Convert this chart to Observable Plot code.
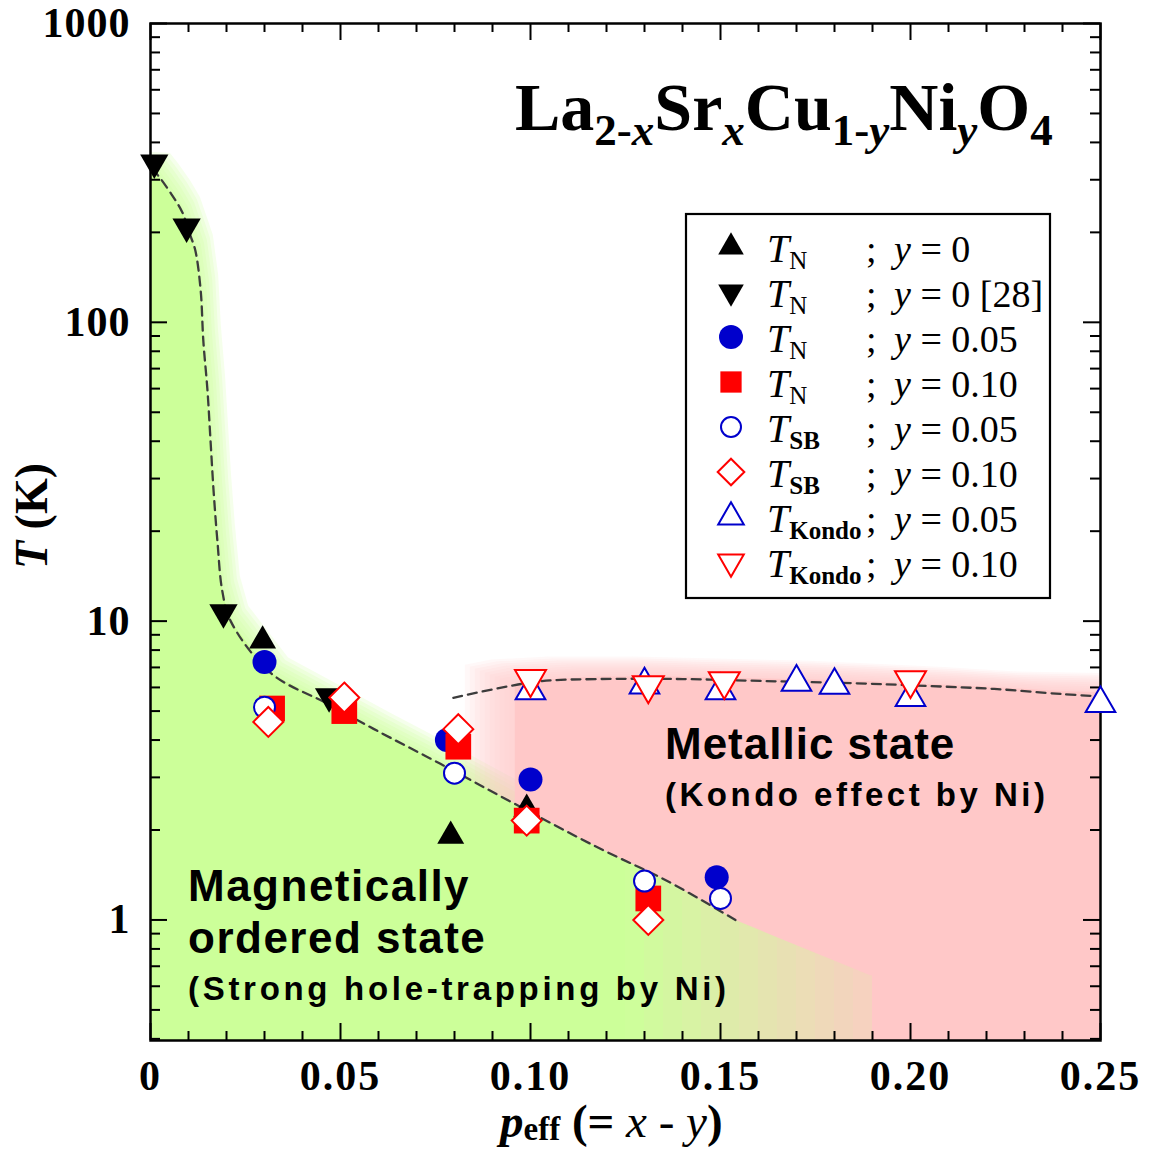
<!DOCTYPE html>
<html>
<head>
<meta charset="utf-8">
<script src="https://cdn.jsdelivr.net/npm/d3@7"></script>
<script src="https://cdn.jsdelivr.net/npm/@observablehq/plot@0.6"></script>
<style>
  html, body { margin: 0; padding: 0; background: #fff; }
  #chart svg { display: block; }
  g[aria-label="x-axis tick label"] text { letter-spacing: 2px; }
  g[aria-label="y-axis tick label"] text { letter-spacing: 1px; }
</style>
</head>
<body>
<div id="chart"></div>
<script>
// ---------------- data (p_eff, T in K) ----------------
const tnY0      = [{p:0.0295,T:8.6},{p:0.079,T:1.91},{p:0.099,T:2.35}];
const tnY0ref28 = [{p:0.001,T:342},{p:0.0095,T:209},{p:0.0192,T:10.7},{p:0.047,T:5.6}];
const tnY005    = [{p:0.030,T:7.3},{p:0.078,T:4.0},{p:0.100,T:2.95},{p:0.149,T:1.39}];
const tnY010    = [{p:0.032,T:5.1},{p:0.051,T:5.0},{p:0.081,T:3.8},{p:0.099,T:2.15},{p:0.131,T:1.18}];
const tsbY005   = [{p:0.030,T:5.15},{p:0.080,T:3.1},{p:0.130,T:1.35},{p:0.150,T:1.18}];
const tsbY010   = [{p:0.031,T:4.6},{p:0.051,T:5.55},{p:0.081,T:4.35},{p:0.099,T:2.15},{p:0.131,T:1.0}];
const tkY005    = [{p:0.100,T:5.85},{p:0.130,T:6.12},{p:0.150,T:5.85},{p:0.170,T:6.25},{p:0.180,T:6.1},{p:0.200,T:5.55},{p:0.250,T:5.3}];
const tkY010    = [{p:0.100,T:6.4},{p:0.131,T:6.1},{p:0.151,T:6.3},{p:0.200,T:6.35}];

// dashed guide lines
const tnLineP = [0.0005,0.0026,0.0058,0.0084,0.0105,0.0118,0.0132,0.0139,0.015,0.0158,0.0166,0.0176,0.0189,0.0211,0.0316,0.0466,0.0587,0.0763,0.0955,0.118,0.136,0.1545];
const tnLineT = [327,303,265,233,195,174,128,86.8,59,40.1,27.3,18.6,12.6,10.0,6.71,5.29,4.36,3.33,2.46,1.74,1.35,0.99];
const kondoLineP = [0.0797,0.092,0.103,0.118,0.140,0.162,0.185,0.204,0.222,0.240,0.250];
const kondoLineT = [5.54,5.98,6.3,6.4,6.4,6.3,6.2,6.07,5.93,5.7,5.6];

// shaded regions (upper boundary of each region)
const greenEdgeP = [-0.02,0.0005,0.0026,0.0058,0.0084,0.0105,0.0118,0.0132,0.0139,0.015,0.0158,0.0166,0.0176,0.0189,0.0211,0.0316,0.0466,0.0587,0.0763,0.0955,0.118,0.136,0.1545,0.1895];
const greenEdgeT = [340,327,303,265,233,195,174,128,86.8,59,40.1,27.3,18.6,12.6,10.0,6.71,5.29,4.36,3.33,2.46,1.74,1.35,0.99,0.65];
const pinkEdgeP = [0.096,0.103,0.118,0.140,0.162,0.185,0.204,0.222,0.240,0.270];
const pinkEdgeT = [6.1,6.35,6.5,6.5,6.4,6.3,6.15,6.0,5.8,5.7];

// ticks
const xMajor = [0, 0.05, 0.10, 0.15, 0.20, 0.25];
const xTickLabels = ["0", "0.05", "0.10", "0.15", "0.20", "0.25"];
const xMinor = [0.01,0.02,0.03,0.04,0.06,0.07,0.08,0.09,0.11,0.12,0.13,0.14,0.16,0.17,0.18,0.19,0.21,0.22,0.23,0.24];
const yMajor = [1, 10, 100, 1000];
const yTickLabels = ["1", "10", "100", "1000"];
const yMinor = [0.4,0.5,0.6,0.7,0.8,0.9,2,3,4,5,6,7,8,9,20,30,40,50,60,70,80,90,200,300,400,500,600,700,800,900];

// legend
const legendSub  = ["N", "N", "N", "N", "SB", "SB", "Kondo", "Kondo"];
const legendCond = ["0", "0 [28]", "0.05", "0.10", "0.05", "0.10", "0.05", "0.10"];

const pt = (P, T) => P.map((p, i) => ({p, T: T[i]}));
const tnLine = pt(tnLineP, tnLineT);
const kondoLine = pt(kondoLineP, kondoLineT);
const greenEdge = pt(greenEdgeP, greenEdgeT);
const pinkEdge = pt(pinkEdgeP, pinkEdgeT);

// ---------------- layout / style ----------------
const W = 1149, H = 1153;
const mL = 150, mR = 49, mT = 23, mB = 113;
const plotW = W - mL - mR, plotH = H - mT - mB;
const BLUE = "#0000cc", RED = "#ff0000", GREEN = "#ccff99", PINK = "#ffc8c8";
const SERIF = "Liberation Serif, Times New Roman, serif";
const SANS = "Liberation Sans, Arial, sans-serif";

// green region split for the horizontal green -> pink fade
function edgeAt(edge, p) {
  for (let i = 0; i < edge.length - 1; i++) {
    const a = edge[i], b = edge[i + 1];
    if (p >= a.p && p <= b.p) {
      const t = (p - a.p) / (b.p - a.p);
      return Math.exp(Math.log(a.T) + t * (Math.log(b.T) - Math.log(a.T)));
    }
  }
  return edge[edge.length - 1].T;
}
function sliceEdge(edge, a, b) {
  return [{p: a, T: edgeAt(edge, a)}, ...edge.filter(d => d.p > a && d.p < b), {p: b, T: edgeAt(edge, b)}];
}
const fadeStart = 0.125, fadeEnd = 0.19, fadeStep = 0.005;
const nStrips = Math.round((fadeEnd - fadeStart) / fadeStep);
const greenSolid = sliceEdge(greenEdge, greenEdge[0].p, fadeStart);
const stripMarks = d3.range(nStrips).map(i => {
  const a = fadeStart + i * fadeStep, b = a + fadeStep;
  const op = 1 - ((i + 0.5) / nStrips) * 0.85;
  return Plot.areaY(sliceEdge(greenEdge, a, Math.min(b, fadeEnd)), {x: "p", y1: 0.3, y2: "T", fill: GREEN, fillOpacity: op, clip: true});
});
// soft halos (layered translucent copies, offset outward)
const greenHalo = [1, 2, 3, 4, 5, 6].map(k => Plot.areaY(greenEdge, {x: "p", y1: 0.3, y2: "T", fill: GREEN, fillOpacity: 0.2, dx: 3 * k, dy: -2.5 * k, clip: true}));
const pinkHalo = [1, 2, 3, 4, 5, 6, 7, 8, 9, 10].map(k => Plot.areaY(pinkEdge, {x: "p", y1: 0.3, y2: "T", fill: PINK, fillOpacity: 0.13, dx: -5 * k, dy: -2 * k, clip: true}));

const sym = {
  tnY0:      {symbol: "triangle", r: 10,   fill: "black", stroke: "none", rotate: 0},
  tnY0ref28: {symbol: "triangle", r: 10.5, fill: "black", stroke: "none", rotate: 180},
  tnY005:    {symbol: "circle",   r: 12,   fill: BLUE,    stroke: "none", rotate: 0},
  tnY010:    {symbol: "square",   r: 14.5, fill: RED,     stroke: "none", rotate: 0},
  tsbY005:   {symbol: "circle",   r: 10.5, fill: "white", stroke: BLUE,   rotate: 0},
  tsbY010:   {symbol: "diamond2", r: 13.5, fill: "white", stroke: RED,    rotate: 0},
  tkY005:    {symbol: "triangle", r: 11,   fill: "white", stroke: BLUE,   rotate: 0},
  tkY010:    {symbol: "triangle", r: 11.5, fill: "white", stroke: RED,    rotate: 180}
};
const series = [["tnY0", tnY0], ["tnY0ref28", tnY0ref28], ["tnY005", tnY005], ["tnY010", tnY010],
                ["tsbY005", tsbY005], ["tsbY010", tsbY010], ["tkY005", tkY005], ["tkY010", tkY010]];

const dotMarks = series.map(([k, data]) => Plot.dot(data, {
  x: "p", y: "T", symbol: sym[k].symbol, r: sym[k].r, fill: sym[k].fill,
  stroke: sym[k].stroke, strokeWidth: 2, rotate: sym[k].rotate
}));

const chart = Plot.plot({
  width: W, height: H,
  marginLeft: mL, marginRight: mR, marginTop: mT, marginBottom: mB,
  x: {domain: [0, 0.25]},
  y: {type: "log", domain: [0.395, 1000]},
  style: {background: "white"},
  marks: [
    ...greenHalo,
    ...pinkHalo,
    Plot.areaY(pinkEdge, {x: "p", y1: 0.3, y2: "T", fill: PINK, clip: true}),
    Plot.areaY(greenSolid, {x: "p", y1: 0.3, y2: "T", fill: GREEN, clip: true}),
    ...stripMarks,
    Plot.line(tnLine, {x: "p", y: "T", stroke: "#3c3c3c", strokeWidth: 2.3, strokeDasharray: "9,6", curve: "catmull-rom"}),
    Plot.line(kondoLine, {x: "p", y: "T", stroke: "#3c3c3c", strokeWidth: 2.3, strokeDasharray: "9,6", curve: "catmull-rom"}),
    // inward ticks: bottom / top
    Plot.ruleX(xMajor, {x: d => d, insetTop: plotH - 17, stroke: "black", strokeWidth: 2}),
    Plot.ruleX(xMajor, {x: d => d, insetBottom: plotH - 17, stroke: "black", strokeWidth: 2}),
    Plot.ruleX(xMinor, {x: d => d, insetTop: plotH - 9, stroke: "black", strokeWidth: 2}),
    Plot.ruleX(xMinor, {x: d => d, insetBottom: plotH - 9, stroke: "black", strokeWidth: 2}),
    // inward ticks: left / right
    Plot.ruleY(yMajor, {y: d => d, insetRight: plotW - 17, stroke: "black", strokeWidth: 2}),
    Plot.ruleY(yMajor, {y: d => d, insetLeft: plotW - 17, stroke: "black", strokeWidth: 2}),
    Plot.ruleY(yMinor, {y: d => d, insetRight: plotW - 10, stroke: "black", strokeWidth: 2}),
    Plot.ruleY(yMinor, {y: d => d, insetLeft: plotW - 10, stroke: "black", strokeWidth: 2}),
    Plot.frame({stroke: "black", strokeWidth: 2.5}),
    Plot.axisX(xMajor, {tickSize: 0, tickPadding: 20, label: null,
      tickFormat: d => xTickLabels[xMajor.indexOf(d)],
      fontSize: 42, fontWeight: "bold", fontFamily: SERIF, fill: "black"}),
    Plot.axisY(yMajor, {tickSize: 0, tickPadding: 20, label: null,
      tickFormat: d => yTickLabels[yMajor.indexOf(d)],
      fontSize: 42, fontWeight: "bold", fontFamily: SERIF, fill: "black"}),
    ...dotMarks
  ]
});
document.getElementById("chart").appendChild(chart);

// ---------------- annotations ----------------
const svg = d3.select(chart);

function richText(parent, x, y, parts, base) {
  const t = parent.append("text").attr("x", x).attr("y", y).attr("text-anchor", "start")
    .attr("font-family", base.family).attr("font-weight", base.weight).attr("font-size", base.size).attr("fill", "black");
  let shift = 0;
  parts.forEach(pp => {
    const target = pp.shift || 0;
    const s = t.append("tspan").text(pp.t).attr("dy", target - shift);
    shift = target;
    if (pp.size) s.attr("font-size", pp.size);
    if (pp.italic) s.attr("font-style", "italic");
    if (pp.weight) s.attr("font-weight", pp.weight);
  });
  return t;
}
const SUB = 45, SH = 15;
richText(svg, 515, 130, [
  {t: "La"}, {t: "2-", size: SUB, shift: SH}, {t: "x", size: SUB, shift: SH, italic: true},
  {t: "Sr"}, {t: "x", size: SUB, shift: SH, italic: true},
  {t: "Cu"}, {t: "1-", size: SUB, shift: SH}, {t: "y", size: SUB, shift: SH, italic: true},
  {t: "Ni"}, {t: "y", size: SUB, shift: SH, italic: true},
  {t: "O"}, {t: "4", size: SUB, shift: SH}
], {family: SERIF, weight: "bold", size: 68});

// Axis titles
const yl = svg.append("text").attr("transform", "translate(47,516) rotate(-90)")
  .attr("text-anchor", "middle").attr("font-family", SERIF).attr("font-weight", "bold").attr("font-size", 46).attr("fill", "black");
yl.append("tspan").attr("font-style", "italic").text("T");
yl.append("tspan").text(" (K)");

richText(svg, 500, 1137, [
  {t: "p", italic: true},
  {t: "eff", size: 33, shift: 3},
  {t: " (= "}, {t: "x", italic: true, weight: "normal"}, {t: " - ", weight: "normal"}, {t: "y", italic: true, weight: "normal"}, {t: ")"}
], {family: SERIF, weight: "bold", size: 47});

// Region labels
function label(x, y, txt, size, spacing) {
  svg.append("text").attr("x", x).attr("y", y).attr("text-anchor", "start").attr("font-family", SANS).attr("font-weight", "bold")
    .attr("font-size", size).attr("letter-spacing", spacing).attr("fill", "black").text(txt);
}
label(665, 759, "Metallic state", 44, 1);
label(665, 806, "(Kondo effect by Ni)", 33, 3.5);
label(188, 901, "Magnetically", 44, 1.5);
label(188, 953, "ordered state", 44, 1.5);
label(188, 1000, "(Strong hole-trapping by Ni)", 33, 3.7);

// Legend
const lg = svg.append("g");
lg.append("rect").attr("x", 686).attr("y", 214).attr("width", 364).attr("height", 384)
  .attr("fill", "white").attr("stroke", "black").attr("stroke-width", 2.2);
const d3sym = {triangle: d3.symbolTriangle, circle: d3.symbolCircle, square: d3.symbolSquare, diamond2: d3.symbolDiamond2};
const legendR = [9.5, 9.5, 12, 12, 10, 12, 9.5, 9.5];
series.forEach(([k], i) => {
  const base = 262 + i * 45;
  const cy = base - 15;
  const s = sym[k];
  lg.append("path")
    .attr("d", d3.symbol(d3sym[s.symbol], Math.PI * legendR[i] * legendR[i])())
    .attr("transform", `translate(731,${cy}) rotate(${s.rotate})`)
    .attr("fill", s.fill).attr("stroke", s.stroke).attr("stroke-width", 2);
  const t = lg.append("text").attr("x", 767).attr("y", base).attr("text-anchor", "start").attr("font-family", SERIF)
    .attr("font-size", 40).attr("fill", "black");
  t.append("tspan").attr("font-style", "italic").text("T");
  t.append("tspan").attr("font-size", 25).attr("dy", 7)
    .attr("font-weight", legendSub[i] === "N" ? "normal" : "bold").text(legendSub[i]);
  lg.append("text").attr("x", 866).attr("y", base).attr("text-anchor", "start").attr("font-family", SERIF).attr("font-size", 38).attr("fill", "black").text(";");
  const c = lg.append("text").attr("x", 894).attr("y", base).attr("text-anchor", "start").attr("font-family", SERIF).attr("font-size", 38).attr("fill", "black");
  c.append("tspan").attr("font-style", "italic").text("y");
  c.append("tspan").text(" = " + legendCond[i]);
});
</script>
</body>
</html>
